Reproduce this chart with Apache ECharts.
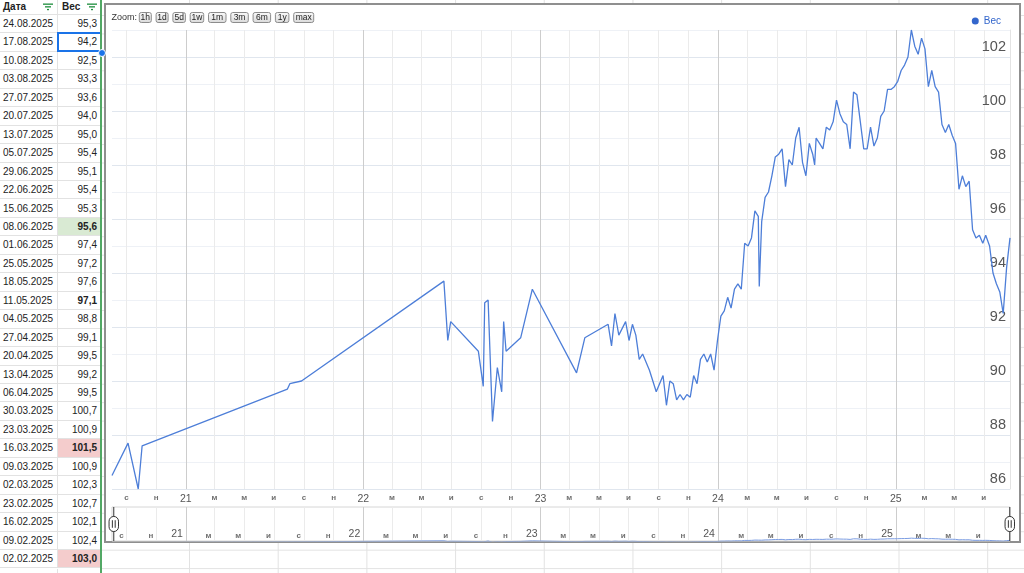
<!DOCTYPE html>
<html><head><meta charset="utf-8">
<script src="https://cdn.jsdelivr.net/npm/echarts@6/dist/echarts.min.js"></script>
<style>
html,body{margin:0;padding:0;width:1024px;height:573px;overflow:hidden;background:#fff;font-family:Arial,"Liberation Sans",sans-serif;}
#sheet{position:absolute;left:0;top:0;width:1024px;height:573px;
 background-image:linear-gradient(to right,#e2e2e2 1px,transparent 1px),linear-gradient(to bottom,#e2e2e2 1px,transparent 1px);
 background-size:88.7px 18.45px;background-position:189px 15px;}
#table{position:absolute;left:0;top:0;width:101px;height:573px;background:#fff;}
.cell{position:absolute;box-sizing:border-box;border-right:1px solid #e2e2e2;border-bottom:1px solid #e2e2e2;font-size:10px;color:#222;white-space:nowrap;overflow:hidden;}
#greenline{position:absolute;left:100px;top:0;width:2px;height:573px;background:#52a865;}
#box{position:absolute;left:104px;top:3px;width:917px;height:540px;box-sizing:border-box;border:2px solid #8f8f8f;background:#fff;}
#chart{position:absolute;left:0;top:0;width:1024px;height:573px;}
</style></head>
<body>
<div id="sheet"></div>
<div id="table"></div>
<div id="greenline"></div>
<div id="box"></div>
<div id="chart"></div>
<script>
// ---- data ----
const dates = [
'2020-08-02','2020-09-04','2020-09-25','2020-10-03','2021-07-29','2021-08-03','2021-08-27',
'2022-06-16','2022-06-24','2022-06-30','2022-08-26','2022-09-05','2022-09-08','2022-09-15','2022-09-24',
'2022-10-04','2022-10-13','2022-10-17','2022-10-22','2022-11-21','2022-12-15',
'2023-03-16','2023-04-02','2023-05-20','2023-05-27','2023-06-03','2023-06-11','2023-06-25','2023-07-02',
'2023-07-09','2023-07-16','2023-07-23','2023-07-30','2023-08-13','2023-08-27','2023-09-10','2023-09-17',
'2023-09-24','2023-10-01','2023-10-08','2023-10-15','2023-10-22','2023-10-29','2023-11-05','2023-11-12',
'2023-11-19','2023-11-26','2023-12-03','2023-12-10','2023-12-17','2023-12-24','2023-12-31',
'2024-01-07','2024-01-14','2024-01-21','2024-01-28','2024-02-04','2024-02-11','2024-02-18','2024-02-25',
'2024-03-03','2024-03-10','2024-03-17','2024-03-24','2024-03-26','2024-03-31','2024-04-07','2024-04-14',
'2024-04-21','2024-04-28','2024-05-05','2024-05-12','2024-05-19','2024-05-26','2024-06-02','2024-06-09',
'2024-06-16','2024-06-23','2024-06-30','2024-07-07','2024-07-14','2024-07-18','2024-07-21','2024-07-28',
'2024-08-04','2024-08-11','2024-08-18','2024-08-25','2024-09-01','2024-09-08','2024-09-15','2024-09-22',
'2024-09-29','2024-10-06','2024-10-13','2024-10-20','2024-10-27','2024-11-03','2024-11-10','2024-11-17',
'2024-11-24','2024-12-01','2024-12-08','2024-12-15','2024-12-22','2024-12-29',
'2025-01-05','2025-01-12','2025-01-19','2025-01-26',
'2025-02-02','2025-02-09','2025-02-16','2025-02-23','2025-03-02','2025-03-09','2025-03-16','2025-03-23',
'2025-03-30','2025-04-06','2025-04-13','2025-04-20','2025-04-27','2025-05-04','2025-05-11','2025-05-18',
'2025-05-25','2025-06-01','2025-06-08','2025-06-15','2025-06-22','2025-06-29','2025-07-05','2025-07-13',
'2025-07-20','2025-07-27','2025-08-03','2025-08-10','2025-08-17','2025-08-24'
];
const weights = [
86.5,87.7,86.0,87.6,89.7,89.9,90.0,
93.7,91.5,92.2,91.1,89.8,92.9,93.0,88.5,
90.5,89.6,92.2,91.1,91.6,93.4,
90.3,91.6,92.1,91.3,92.5,91.7,92.2,91.5,
92.1,91.7,90.8,91.0,90.4,89.6,90.2,89.1,
90.0,89.9,89.3,89.5,89.3,89.5,89.4,90.2,
89.9,90.8,91.0,90.7,91.0,90.4,91.5,
92.4,92.6,93.1,92.7,93.4,93.6,93.4,95.1,
95.0,95.3,96.3,96.1,93.5,95.9,96.8,97.0,
97.6,98.3,98.4,98.6,97.2,98.2,98.0,99.0,
99.4,98.1,97.6,98.8,98.4,98.0,99.0,98.8,
98.6,99.4,99.3,99.6,100.4,99.9,99.6,99.5,
98.6,100.7,100.6,99.6,98.6,98.6,99.4,98.7,
99.0,99.8,100.0,100.8,100.8,100.9,
101.1,101.5,101.7,102.0,
103.0,102.4,102.1,102.7,102.3,100.9,101.5,100.9,
100.7,99.5,99.2,99.5,99.1,98.8,97.1,97.6,
97.2,97.4,95.6,95.3,95.4,95.1,95.4,95.0,
94.0,93.6,93.3,92.5,94.2,95.3
];
const tickDates = [
'2020-09-01','2020-11-01',
'2021-01-01','2021-03-01','2021-05-01','2021-07-01','2021-09-01','2021-11-01',
'2022-01-01','2022-03-01','2022-05-01','2022-07-01','2022-09-01','2022-11-01',
'2023-01-01','2023-03-01','2023-05-01','2023-07-01','2023-09-01','2023-11-01',
'2024-01-01','2024-03-01','2024-05-01','2024-07-01','2024-09-01','2024-11-01',
'2025-01-01','2025-03-01','2025-05-01','2025-07-01'
];
const tickLabels = [
'с','н',
'21','м','м','и','с','н',
'22','м','м','и','с','н',
'23','м','м','и','с','н',
'24','м','м','и','с','н',
'25','м','м','и'
];
const seriesName = 'Вес';
const headerLabels = ['Дата','Вес'];
const zoomLabel = 'Zoom:';
const zoomButtons = ['1h','1d','5d','1w','1m','3m','6m','1y','max'];
const tableRowCount = 30;

// ---- table (spreadsheet part) ----
const cellLook = {
  '2025-06-08': {bg:'#d9ead3', bold:true},
  '2025-05-11': {bold:true},
  '2025-03-16': {bg:'#f4cccc', bold:true},
  '2025-02-02': {bg:'#f4cccc', bold:true}
};
const selectedDate = '2025-08-17';
(function buildTable(){
  const tb = document.getElementById('table');
  const H0 = 15, RH = 18.45, C1 = 58, C2 = 43;
  const filterIcon = '<svg width="10" height="8" style="position:absolute;top:3px;"><rect x="0" y="0.5" width="10" height="1.3" fill="#1e8e3e"/><rect x="2" y="3.2" width="6" height="1.3" fill="#1e8e3e"/><rect x="4" y="5.9" width="2" height="1.3" fill="#1e8e3e"/></svg>';
  let html = '';
  html += '<div class="cell" style="left:0;top:0;width:'+C1+'px;height:'+H0+'px;font-weight:bold;line-height:13px;padding-left:3px;">'+headerLabels[0]+'<span style="position:absolute;left:43px;top:0;">'+filterIcon+'</span></div>';
  html += '<div class="cell" style="left:'+C1+'px;top:0;width:'+C2+'px;height:'+H0+'px;font-weight:bold;line-height:13px;padding-left:4px;">'+headerLabels[1]+'<span style="position:absolute;left:29px;top:0;">'+filterIcon+'</span></div>';
  const rowsD = dates.slice(-tableRowCount).reverse();
  const rowsV = weights.slice(-tableRowCount).reverse();
  rowsD.forEach((d,i)=>{
    const top = H0 + i*RH;
    const p = d.split('-');
    const txt = p[2]+'.'+p[1]+'.'+p[0];
    const look = cellLook[d] || {};
    html += '<div class="cell" style="left:0;top:'+top+'px;width:'+C1+'px;height:'+RH+'px;line-height:'+RH+'px;padding-left:3px;">'+txt+'</div>';
    html += '<div class="cell" style="left:'+C1+'px;top:'+top+'px;width:'+C2+'px;height:'+RH+'px;line-height:'+RH+'px;text-align:right;padding-right:3px;'+
      (look.bg?'background:'+look.bg+';':'')+(look.bold?'font-weight:bold;':'')+'">'+rowsV[i].toFixed(1).replace('.',',')+'</div>';
    if (d === selectedDate) {
      html += '<div style="position:absolute;left:'+(C1-1)+'px;top:'+(top-1)+'px;width:'+(C2+2)+'px;height:'+(RH+1)+'px;box-sizing:border-box;border:2px solid #1a73e8;"></div>';
      html += '<div style="position:absolute;left:'+(C1+C2-3)+'px;top:'+(top+RH-3)+'px;width:6px;height:6px;border-radius:50%;background:#1a73e8;border:1px solid #fff;z-index:3;"></div>';
    }
  });
  html += '<div class="cell" style="left:0;top:'+(H0+tableRowCount*RH)+'px;width:'+C1+'px;height:'+RH+'px;"></div>';
  html += '<div class="cell" style="left:'+C1+'px;top:'+(H0+tableRowCount*RH)+'px;width:'+C2+'px;height:'+RH+'px;"></div>';
  tb.innerHTML = html;
})();

// ---- chart ----
function ts(s){ const p = s.split('-').map(Number); return new Date(p[0], p[1]-1, p[2]).getTime(); }
const points = dates.map((d,i)=>[ts(d), weights[i]]);
const tickTs = tickDates.map(ts);
const labelByTs = {};
tickTs.forEach((t,i)=>{ labelByTs[t] = tickLabels[i]; });
const isYear = s => /^\d+$/.test(s);
const tMin = ts(dates[0]), tMax = ts(dates[dates.length-1]);
const vColors = tickLabels.map(l => isYear(l) ? '#cdcdcd' : '#ebebeb');
const fmtTick = v => { const l = labelByTs[v]; if (l == null) return ''; return isYear(l) ? '{y|'+l+'}' : '{m|'+l+'}'; };
const rich = { m:{fontSize:8, color:'#707070', fontWeight:'bold', fontFamily:'Arial'}, y:{fontSize:10.5, color:'#555', fontFamily:'Arial'} };

const graphic = [];
graphic.push({type:'text', x:111.5, y:17.5, silent:true, style:{text:zoomLabel, fontSize:9, fill:'#333', fontFamily:'Arial', verticalAlign:'middle'}});
const btnW = {'1h':12,'1d':12,'5d':12.5,'1w':13.5,'1m':17.5,'3m':17.5,'6m':17.5,'1y':13.5,'max':20};
let bx = 139.3;
zoomButtons.forEach(b=>{
  const w = btnW[b] || 14;
  graphic.push({type:'rect', silent:true, shape:{x:bx, y:12.5, width:w, height:10, r:2},
    style:{fill:new echarts.graphic.LinearGradient(0,0,0,1,[{offset:0,color:'#fbfbfb'},{offset:1,color:'#d9d9d9'}]), stroke:'#8c8c8c', lineWidth:1}});
  graphic.push({type:'text', silent:true, x:bx+w/2, y:17.8, style:{text:b, fontSize:8.5, fill:'#222', fontFamily:'Arial', align:'center', verticalAlign:'middle'}});
  bx += w + 4.8;
});

const chart = echarts.init(document.getElementById('chart'), null, {renderer:'canvas'});
chart.setOption({
  animation:false,
  backgroundColor:'transparent',
  textStyle:{fontFamily:'Arial'},
  legend:{data:[{name:seriesName, itemStyle:{color:'#3366cc'}}], right:18, top:11, icon:'circle', itemWidth:7, itemHeight:7,
    selectedMode:false, textStyle:{color:'#3366cc', fontSize:10, fontFamily:'Arial'}},
  grid:[
    {left:112, right:14, top:30, bottom:84},
    {left:112, right:14, top:507, bottom:32, show:true, borderColor:'#d6d6d6', borderWidth:1, backgroundColor:'transparent'}
  ],
  xAxis:[
    {gridIndex:0, type:'value', min:tMin, max:tMax,
     axisLine:{show:false}, axisTick:{show:false, customValues:tickTs},
     axisLabel:{customValues:tickTs, formatter:fmtTick, rich:rich, margin:5, hideOverlap:false},
     splitLine:{show:true, lineStyle:{color:vColors, width:1}}},
    {gridIndex:1, type:'value', min:tMin, max:tMax,
     axisLine:{show:false}, axisTick:{show:false, customValues:tickTs},
     axisLabel:{customValues:tickTs, formatter:fmtTick, rich:rich, inside:true, margin:1, align:'right', padding:[0,3,0,0], hideOverlap:false},
     splitLine:{show:true, lineStyle:{color:vColors, width:1}}}
  ],
  yAxis:[
    {gridIndex:0, type:'value', position:'right', min:86, max:103, interval:1,
     axisLine:{show:true, lineStyle:{color:'#e3e3e3'}}, axisTick:{show:false},
     axisLabel:{inside:true, margin:4, fontSize:14.5, color:'#555', verticalAlign:'bottom', padding:[0,0,3,0],
       formatter: v => (v % 2 === 0 && v < 103) ? String(v) : ''},
     splitLine:{show:true, lineStyle:{color:['#e0e6ee','#eef1f6'], width:1}}},
    {gridIndex:1, type:'value', min:93, max:213, show:false, splitLine:{show:false}}
  ],
  dataZoom:[{
    type:'slider', xAxisIndex:[0,1], filterMode:'none', start:0, end:100,
    left:112, right:14, top:507, height:34,
    showDetail:false, showDataShadow:false, brushSelect:false, zoomLock:true,
    moveHandleSize:0, moveHandleStyle:{opacity:0},
    backgroundColor:'rgba(0,0,0,0)', borderColor:'rgba(0,0,0,0)', fillerColor:'rgba(0,0,0,0)',
    dataBackground:{lineStyle:{opacity:0}, areaStyle:{opacity:0}},
    selectedDataBackground:{lineStyle:{opacity:0}, areaStyle:{opacity:0}},
    handleIcon:'path://M6,0L6,10M6,26L6,36M1,15C1,12.2 3.2,10 6,10C8.8,10 11,12.2 11,15L11,21C11,23.8 8.8,26 6,26C3.2,26 1,23.8 1,21ZM4.5,14L4.5,22M7.5,14L7.5,22',
    handleSize:'100%', handleStyle:{color:'#fff', borderColor:'#333', borderWidth:1}
  }],
  series:[
    {name:seriesName, type:'line', xAxisIndex:0, yAxisIndex:0, data:points, symbol:'none', showSymbol:false,
     lineStyle:{color:'#4d7ed8', width:1.3}, itemStyle:{color:'#3366cc'}, silent:true, z:3},
    {name:'mini', type:'line', xAxisIndex:1, yAxisIndex:1, data:points, symbol:'none', showSymbol:false,
     lineStyle:{color:'#7c9de2', width:1}, silent:true, z:2}
  ],
  graphic:graphic
});
</script>
</body></html>
